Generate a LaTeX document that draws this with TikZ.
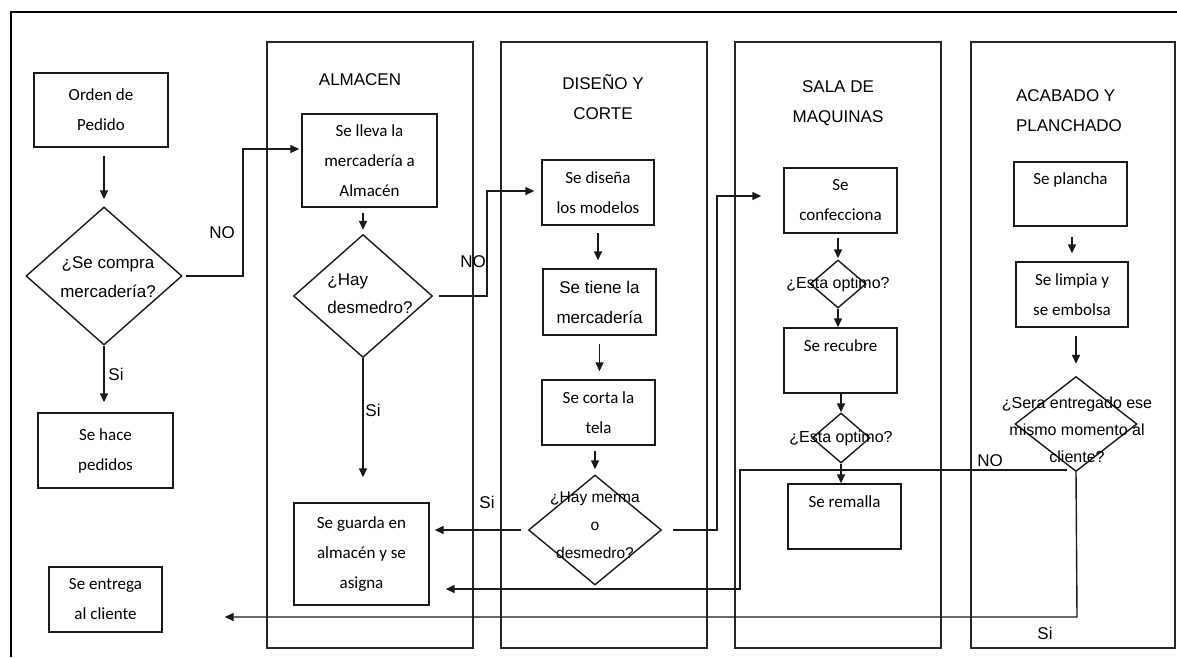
\documentclass[tikz,border=0pt]{standalone}
\usepackage{fontspec}
\setmainfont{Carlito}
\newfontfamily\arialf{Liberation Sans}
\usetikzlibrary{shapes.geometric,arrows.meta}
\begin{document}
\begin{tikzpicture}[x=1pt,y=-1pt,
  line/.style={draw=black!90, line width=1.4pt},
  box/.style={line, rectangle, inner sep=0pt, align=center, font=\fontsize{17}{30}\selectfont},
  abox/.style={box, font=\arialf\fontsize{17}{30}\selectfont},
  dia/.style={line, diamond, inner sep=0pt},
  dtext/.style={align=center, inner sep=0pt, font=\arialf\fontsize{16}{27}\selectfont},
  lane/.style={draw=black!85, line width=1.4pt},
  title/.style={align=center, inner sep=0pt, font=\arialf\fontsize{17}{30}\selectfont},
  lbl/.style={inner sep=0pt, font=\arialf\fontsize{17}{20}\selectfont},
  arr/.style={line, -{Triangle[length=9pt,width=8pt]}},
]
\useasboundingbox (0,0) rectangle (1177,657);
% outer frame
\draw[line width=2.5pt, black] (11,657) -- (11,12) -- (1177,12);
% lanes
\draw[lane] (267,42) rectangle (473,648);
\draw[lane] (501,42) rectangle (707,648);
\draw[lane] (735,42) rectangle (941,648);
\draw[lane] (971,42) rectangle (1175,648);
% titles
\node[title] (tAlm) at (360,80) {ALMACEN};
\node[title] (tDis) at (603,97) {DISEÑO Y\\CORTE};
\node[title] (tSal) at (838,103) {SALA DE\\MAQUINAS};
\node[title, align=left] (tAca) at (1069,111) {ACABADO Y\\PLANCHADO};
% left column
\node[box, minimum width=134pt, minimum height=74pt] (orden) at (101,110) {Orden de\\Pedido};
\node[dia, minimum width=156pt, minimum height=138pt] (dcompra) at (104,276) {};
\node[dtext, font=\arialf\fontsize{17}{29}\selectfont] (dcompraT) at (108,277) {¿Se compra\\mercadería?};
\node[box, minimum width=135pt, minimum height=75pt] (hace) at (105.5,450.5) {Se hace\\pedidos};
\node[box, minimum width=113pt, minimum height=65pt] (entrega) at (105.5,599.5) {Se entrega\\al cliente};
% almacen
\node[box, minimum width=135pt, minimum height=93pt] (lleva) at (369.5,160.5) {Se lleva la\\mercadería a\\Almacén};
\node[dia, minimum width=139pt, minimum height=123pt] (dhay) at (363,296) {};
\node[dtext, align=left, font=\arialf\fontsize{17}{28}\selectfont] (dhayT) at (370,294) {¿Hay\\desmedro?};
\node[box, minimum width=135pt, minimum height=102pt] (guarda) at (361.5,554) {Se guarda en\\almacén y se\\asigna};
% diseño
\node[box, minimum width=112pt, minimum height=65pt] (disena) at (598,192.5) {Se diseña\\los modelos};
\node[abox, minimum width=113pt, minimum height=66pt] (tiene) at (599.5,302) {Se tiene la\\mercadería};
\node[box, minimum width=113pt, minimum height=65pt] (corta) at (598.5,412.5) {Se corta la\\tela};
\node[dia, minimum width=133pt, minimum height=110pt] (dmerma) at (595,530) {};
\node[dtext, font=\arialf\fontsize{15.5}{28}\selectfont] (dmermaT) at (595,525) {¿Hay merma\\o\\desmedro?};
% sala
\node[box, minimum width=113pt, minimum height=65pt] (confe) at (840.5,200.5) {Se\\confecciona};
\node[dia, minimum width=56pt, minimum height=48pt] (dopt1) at (838,284) {};
\node[dtext] (dopt1T) at (838,284) {¿Esta optimo?};
\node[box, minimum width=113pt, minimum height=65pt] (recubre) at (840.5,360.5) {Se recubre\\~};
\node[dia, minimum width=58pt, minimum height=50pt] (dopt2) at (841,438) {};
\node[dtext] (dopt2T) at (841,438) {¿Esta optimo?};
\node[box, minimum width=113pt, minimum height=65pt] (remalla) at (844.5,516.5) {Se remalla\\~};
% acabado
\node[box, minimum width=113pt, minimum height=64pt] (plancha) at (1070.5,194) {Se plancha\\~};
\node[box, minimum width=112pt, minimum height=65pt] (limpia) at (1072,294.5) {Se limpia y\\se embolsa};
\node[dia, minimum width=122pt, minimum height=95pt] (dsera) at (1076,424) {};
\node[dtext] (dseraT) at (1077,430) {¿Sera entregado ese\\mismo momento al\\cliente?};
% junction coordinates
\coordinate (j1) at (243,149);
\coordinate (j2) at (487,191);
\coordinate (j3) at (717,196);
\coordinate (dsno) at (1067,470);
\coordinate (j5) at (740,470);
\coordinate (j6) at (740,589);
\coordinate (j7) at (1077,617);
% connectors
\draw[arr, shorten <=8pt, shorten >=7pt] (orden.south -| dcompra.north) -- (dcompra.north);
\draw[arr, shorten <=3pt, shorten >=2pt] (dcompra.east) -| (j1) -- (j1 -| lleva.west);
\draw[arr, shorten >=10pt] (dcompra.south) -- (dcompra.south |- hace.north);
\draw[arr, shorten <=5pt, shorten >=4pt] (dhay.north |- lleva.south) -- (dhay.north);
\draw[arr, shorten <=6pt, shorten >=7pt] (dhay.east) -| (j2) -- (j2 -| disena.west);
\draw[arr, shorten >=25pt] (dhay.south) -- (dhay.south |- guarda.north);
\draw[arr, shorten <=7pt, shorten >=8pt] (disena.south) -- (disena.south |- tiene.north);
\draw[arr, shorten <=8pt, shorten >=8pt] (tiene.south) -- (tiene.south |- corta.north);
\draw[arr, shorten <=5pt, shorten >=5pt] (corta.south -| dmerma.north) -- (dmerma.north);
\draw[arr, shorten <=7pt, shorten >=5pt] (dmerma.west) -- (dmerma.west -| guarda.east);
\draw[arr, shorten <=11pt, shorten >=22pt] (dmerma.east) -| (j3) -- (j3 -| confe.west);
\draw[arr, shorten <=4pt, shorten >=1pt] (confe.south -| dopt1.north) -- (dopt1.north);
\draw[arr] (dopt1.south) -- (dopt1.south |- recubre.north);
\draw[arr] (recubre.south -| dopt2.north) -- (dopt2.north);
\draw[arr] (dopt2.south) -- (dopt2.south |- remalla.north);
\draw[arr, shorten <=10pt, shorten >=8pt] (plancha.south -| limpia.north) -- (limpia.north);
\draw[arr, shorten <=8pt, shorten >=12pt] (limpia.south -| dsera.north) -- (dsera.north);
\draw[arr, shorten >=16pt] (dsno) -- (j5) -- (j6) -- (j6 -| guarda.east);
\draw[arr, shorten >=62pt] (dsera.south) -- (j7) -- (j7 -| entrega.east);
% labels
\node[lbl] (lNO1) at (222,233) {NO};
\node[lbl] (lSi1) at (116,374) {Si};
\node[lbl] (lNO2) at (473,262) {NO};
\node[lbl] (lSi2) at (373,410) {Si};
\node[lbl] (lSi3) at (487,502) {Si};
\node[lbl] (lNO3) at (990,461) {NO};
\node[lbl] (lSi4) at (1045,633) {Si};
\end{tikzpicture}
\end{document}
